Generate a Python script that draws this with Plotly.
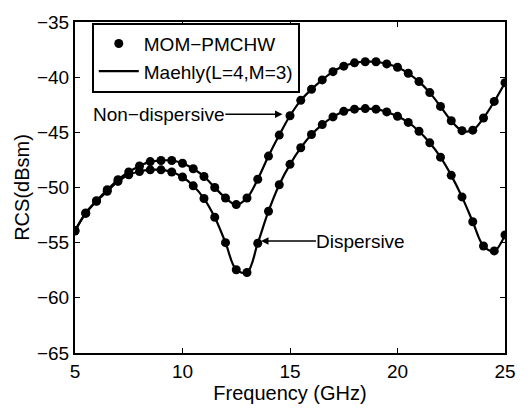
import plotly.graph_objects as go

freq = [5.0 + 0.5 * i for i in range(41)]

non_dispersive = [
    -53.9, -52.3, -51.2, -50.2, -49.3, -48.6, -48.05, -47.65, -47.55, -47.55,
    -47.8, -48.3, -49.0, -50.0, -50.95, -51.55, -50.95, -49.25, -47.15, -45.25,
    -43.5, -42.1, -41.1, -40.25, -39.5, -39.0, -38.7, -38.6, -38.6, -38.8,
    -39.1, -39.65, -40.4, -41.4, -42.65, -43.95, -44.85, -44.8, -43.7, -42.2,
    -40.5,
]

dispersive = [
    -53.95, -52.35, -51.25, -50.35, -49.45, -48.85, -48.55, -48.4, -48.4, -48.6,
    -49.05, -49.85, -51.0, -52.7, -55.0, -57.45, -57.7, -55.05, -52.15, -49.75,
    -47.9, -46.4, -45.2, -44.3, -43.6, -43.1, -42.9, -42.85, -42.9, -43.15,
    -43.55, -44.1, -44.9, -45.95, -47.25, -48.9, -50.85, -53.1, -55.3, -55.75,
    -54.3,
]

FONT = "Liberation Sans, Arial, Helvetica, sans-serif"

fig = go.Figure()

# MOM-PMCHW dots
for i, ys in enumerate([non_dispersive, dispersive]):
    fig.add_trace(go.Scatter(
        x=freq, y=ys, mode="markers",
        marker=dict(color="black", size=9),
        name="MOM\u2212PMCHW", showlegend=(i == 0), legendrank=1,
    ))
# Maehly curves
for i, ys in enumerate([non_dispersive, dispersive]):
    fig.add_trace(go.Scatter(
        x=freq, y=ys, mode="lines", line=dict(color="black", width=2.2, shape="spline", smoothing=1.0),
        name="Maehly(L=4,M=3)", showlegend=(i == 0), legendrank=2,
    ))

axis_common = dict(
    showline=True, linecolor="black", linewidth=2, mirror="ticks",
    ticks="inside", ticklen=5, tickwidth=1, tickcolor="black",
    showgrid=False, zeroline=False,
    tickfont=dict(family=FONT, size=19, color="black"),
)

fig.update_layout(
    width=528, height=410,
    margin=dict(l=75, r=15, t=18, b=47),
    paper_bgcolor="white", plot_bgcolor="white",
    font=dict(family=FONT, size=19, color="black"),
    xaxis=dict(range=[5, 25], tickvals=[5, 10, 15, 20, 25],
               title=dict(text="Frequency (GHz)", font=dict(family=FONT, size=20), standoff=2),
               **axis_common),
    yaxis=dict(range=[-65, -35], tickvals=[-65, -60, -55, -50, -45, -40, -35],
               title=dict(text="RCS(dBsm)", font=dict(family=FONT, size=20), standoff=2),
               **axis_common),
    legend=dict(x=0.039, y=0.998, xanchor="left", yanchor="top",
                bordercolor="black", borderwidth=2, bgcolor="white",
                font=dict(family=FONT, size=19, color="black"),
                tracegroupgap=0, itemwidth=40),
    showlegend=True,
    annotations=[
        dict(x=14.65, y=-43.35, ax=8.9, ay=-43.35, axref="x", ayref="y",
             xref="x", yref="y", text="Non\u2212dispersive", showarrow=True,
             arrowhead=2, arrowsize=1, arrowwidth=1.5, arrowcolor="black",
             font=dict(family=FONT, size=19, color="black"), borderpad=0),
        dict(x=13.65, y=-54.85, ax=18.3, ay=-54.85, axref="x", ayref="y",
             xref="x", yref="y", text="Dispersive", showarrow=True,
             arrowhead=2, arrowsize=1, arrowwidth=1.5, arrowcolor="black",
             font=dict(family=FONT, size=19, color="black"), borderpad=0),
    ],
)

fig.write_html("out.html")
